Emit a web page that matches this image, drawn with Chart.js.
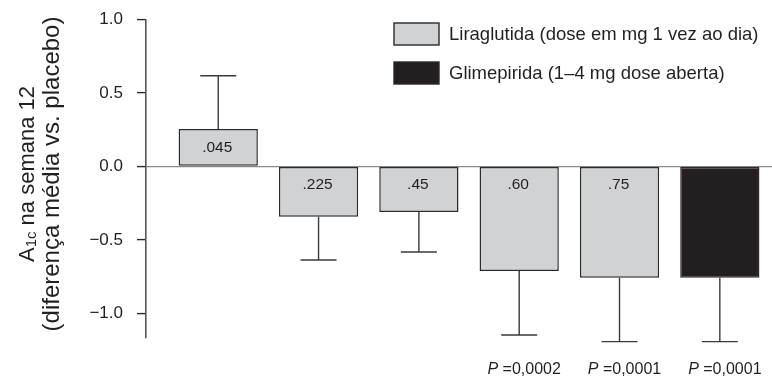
<!DOCTYPE html>
<html>
<head>
<meta charset="utf-8">
<script src="https://cdn.jsdelivr.net/npm/chart.js@4/dist/chart.umd.min.js"></script>
<style>
  html, body { margin: 0; padding: 0; background: #ffffff; }
  #wrap { width: 772px; height: 376px; }
</style>
</head>
<body>
<div id="wrap"><canvas id="chart" width="772" height="376"></canvas></div>
<script>
// Dose groups (mg, once daily) and the open-label comparator
const categories = ['.045', '.225', '.45', '.60', '.75', 'Glimepirida'];
// Mean change in A1c vs. placebo at week 12
const meanDiff = [0.255, -0.342, -0.31, -0.712, -0.758, -0.758];
// Outer end of each whisker
const whiskerEnd = [0.617, -0.637, -0.583, -1.148, -1.193, -1.193];
// Dose text written inside each bar (none for glimepiride)
const barLabels = ['.045', '.225', '.45', '.60', '.75', ''];
// P values under the bars
const pValues = ['', '', '', '0,0002', '0,0001', '0,0001'];
// Y axis ticks
const yTicks = [-1, -0.5, 0, 0.5, 1];
const yTickLabels = ['\u22121.0', '\u22120.5', '0.0', '0.5', '1.0'];
// Series names
const seriesNames = ['Liraglutida (dose em mg 1 vez ao dia)', 'Glimepirida (1\u20134 mg dose aberta)'];

const FONT = '"Liberation Sans", Arial, Helvetica, sans-serif';
const TEXT = '#231f20';
const GREY_FILL = '#d1d2d4';
const DARK_FILL = '#231f20';
const EDGE = '#2a2a2a';

const liraIdx = [0, 1, 2, 3, 4];
const glimIdx = [5];

const liraData = liraIdx.map(i => ({ x: i, y: meanDiff[i] }));
const glimData = glimIdx.map(i => ({ x: i, y: meanDiff[i] }));

// Whiskers, in-bar dose labels, P values, legend and the two-line axis title
const annotations = {
  id: 'annotations',
  afterDatasetsDraw(chart) {
    const { ctx, scales } = chart;
    const y = scales.y;
    const zero = y.getPixelForValue(0);
    ctx.save();

    chart.data.datasets.forEach((ds, di) => {
      const meta = chart.getDatasetMeta(di);
      meta.data.forEach((bar, k) => {
        const i = ds.data[k].x;
        const xC = bar.x;
        const yEnd = y.getPixelForValue(whiskerEnd[i]);
        // whisker
        ctx.strokeStyle = '#3a3a3a';
        ctx.lineWidth = 1.4;
        ctx.beginPath();
        ctx.moveTo(xC, bar.y);
        ctx.lineTo(xC, yEnd);
        ctx.moveTo(xC - 18, yEnd);
        ctx.lineTo(xC + 18, yEnd);
        ctx.stroke();

        // dose label
        if (barLabels[i]) {
          ctx.fillStyle = TEXT;
          ctx.font = '15.5px ' + FONT;
          ctx.textAlign = 'center';
          ctx.textBaseline = 'middle';
          const ly = meanDiff[i] > 0 ? (bar.y + zero) / 2 : zero + 18;
          ctx.fillText(barLabels[i], xC - 1, ly);
        }

        // P value
        if (pValues[i]) {
          const pTxt = 'P';
          const rest = ' =' + pValues[i];
          ctx.textBaseline = 'alphabetic';
          ctx.textAlign = 'left';
          ctx.font = 'italic 16px ' + FONT;
          const w1 = ctx.measureText(pTxt).width;
          ctx.font = '16px ' + FONT;
          const w2 = ctx.measureText(rest).width;
          const x0 = xC + 5 - (w1 + w2) / 2;
          ctx.fillStyle = TEXT;
          ctx.font = 'italic 16px ' + FONT;
          ctx.fillText(pTxt, x0, 374);
          ctx.font = '16px ' + FONT;
          ctx.fillText(rest, x0 + w1, 374);
        }
      });
    });

    // legend
    const lx = 394;
    const rows = [
      { y: 23, fill: GREY_FILL, text: seriesNames[0] },
      { y: 62, fill: DARK_FILL, text: seriesNames[1] }
    ];
    rows.forEach(r => {
      ctx.fillStyle = r.fill;
      ctx.fillRect(lx, r.y, 45, 22);
      ctx.strokeStyle = EDGE;
      ctx.lineWidth = 1.4;
      ctx.strokeRect(lx, r.y, 45, 22);
      ctx.fillStyle = TEXT;
      ctx.font = '18.5px ' + FONT;
      ctx.textAlign = 'left';
      ctx.textBaseline = 'middle';
      ctx.fillText(r.text, lx + 55, r.y + 12);
    });

    // axis title, rotated
    const cy = 174;
    ctx.fillStyle = TEXT;
    ctx.textBaseline = 'alphabetic';
    ctx.textAlign = 'left';
    // first line: A1c with subscript
    const big1 = '22px ' + FONT;
    const small = '15px ' + FONT;
    const partA = 'A', partSub = '1c', partRest = ' na semana 12';
    ctx.font = big1;
    const wA = ctx.measureText(partA).width;
    const wR = ctx.measureText(partRest).width;
    ctx.font = small;
    const wS = ctx.measureText(partSub).width;
    const total1 = wA + wS + wR;
    ctx.save();
    ctx.translate(34, cy);
    ctx.rotate(-Math.PI / 2);
    let tx = -total1 / 2;
    ctx.font = big1;
    ctx.fillText(partA, tx, 0);
    tx += wA;
    ctx.font = small;
    ctx.fillText(partSub, tx, 2);
    tx += wS;
    ctx.font = big1;
    ctx.fillText(partRest, tx, 0);
    ctx.restore();
    // second line
    ctx.save();
    ctx.translate(59, cy);
    ctx.rotate(-Math.PI / 2);
    ctx.font = '24px ' + FONT;
    ctx.textAlign = 'center';
    ctx.fillText('(diferen\u00e7a m\u00e9dia vs. placebo)', 0, 0);
    ctx.restore();

    ctx.restore();
  }
};

new Chart(document.getElementById('chart'), {
  type: 'bar',
  data: {
    datasets: [
      {
        label: seriesNames[0],
        data: liraData,
        backgroundColor: GREY_FILL,
        borderColor: EDGE,
        borderWidth: 1.5,
        borderSkipped: false
      },
      {
        label: seriesNames[1],
        data: glimData,
        backgroundColor: DARK_FILL,
        borderColor: EDGE,
        borderWidth: 1.5,
        borderSkipped: false
      }
    ]
  },
  options: {
    responsive: false,
    animation: false,
    devicePixelRatio: 1,
    grouped: false,
    barPercentage: 0.79,
    categoryPercentage: 1,
    layout: { padding: { top: 19.5, bottom: 38, left: 0, right: 0 } },
    plugins: {
      legend: { display: false },
      tooltip: { enabled: false },
      title: { display: false }
    },
    scales: {
      x: {
        type: 'linear',
        display: false,
        offset: false,
        min: -0.72,
        max: 5.52,
        // one tick per category so bar widths follow the category spacing
        afterBuildTicks(scale) { scale.ticks = categories.map((c, i) => ({ value: i })); }
      },
      y: {
        min: -1.168,
        max: 1,
        afterFit(scale) {
          scale.width = 146;
          scale.paddingTop = 0;
          scale.paddingBottom = 0;
        },
        afterBuildTicks(scale) { scale.ticks = yTicks.map(v => ({ value: v })); },
        border: { display: true, color: '#555', width: 1.6 },
        grid: {
          drawOnChartArea: true,
          drawTicks: true,
          tickLength: 9,
          tickColor: '#2a2a2a',
          tickWidth: 1.4,
          lineWidth: 1.2,
          color: c => (c.tick && c.tick.value === 0 ? '#8a8a8a' : 'rgba(0,0,0,0)')
        },
        ticks: {
          padding: 14,
          color: TEXT,
          font: { family: FONT, size: 17 },
          callback: v => {
            const k = yTicks.indexOf(v);
            return k >= 0 ? yTickLabels[k] : '';
          }
        }
      }
    }
  },
  plugins: [annotations]
});
</script>
</body>
</html>
